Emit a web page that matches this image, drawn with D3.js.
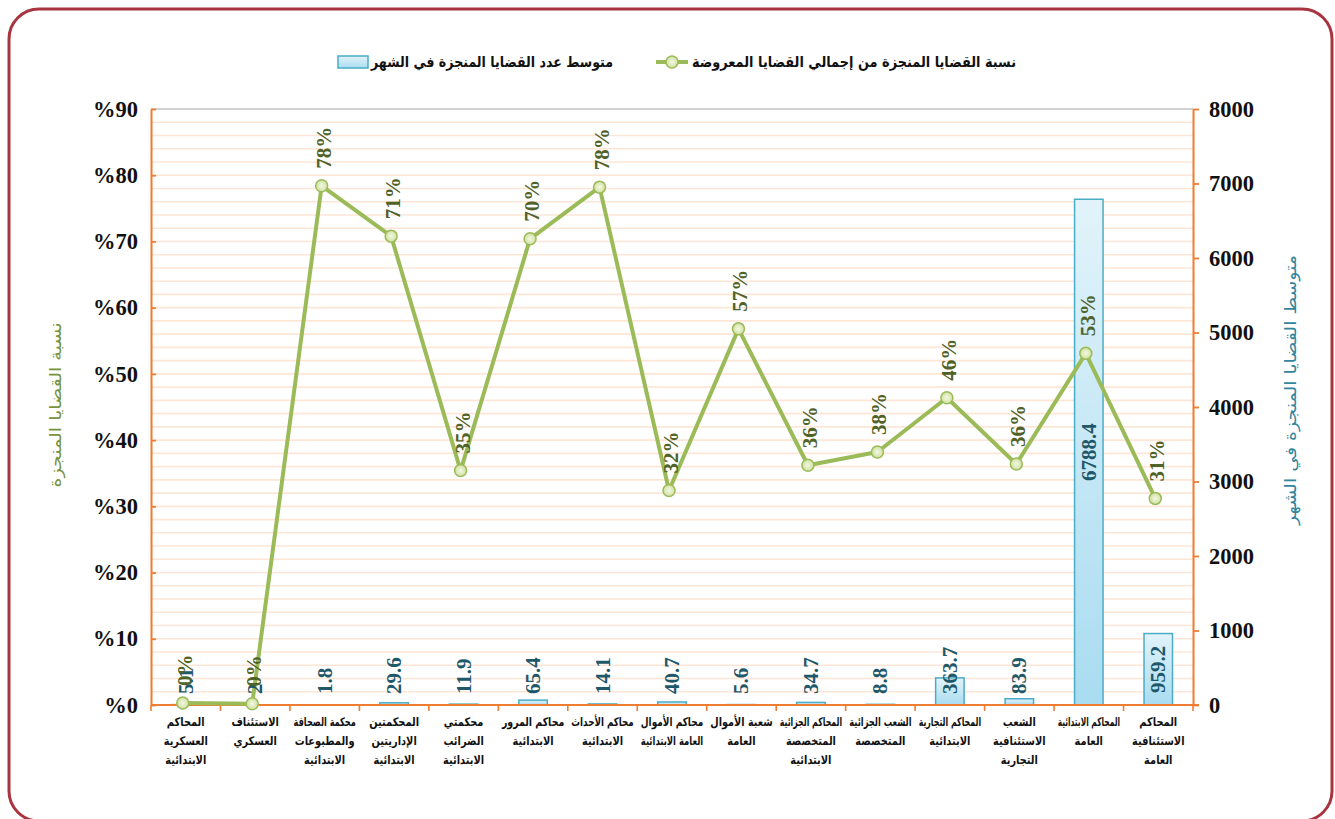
<!DOCTYPE html>
<html><head><meta charset="utf-8">
<script src="https://cdn.jsdelivr.net/npm/d3@7"></script>
<style>body{margin:0;background:#fff;overflow:hidden}</style>
</head><body>
<svg id="c" width="1335" height="819"></svg>
<script>
// ---- data ----
const categories = [
  ["المحاكم","العسكرية","الابتدائية"],
  ["الاستئناف","العسكري"],
  ["محكمة الصحافة","والمطبوعات","الابتدائية"],
  ["المحكمتين","الإداريتين","الابتدائية"],
  ["محكمتي","الضرائب","الابتدائية"],
  ["محاكم المرور","الابتدائية"],
  ["محاكم الأحداث","الابتدائية"],
  ["محاكم الأموال","العامة الابتدائية"],
  ["شعبة الأموال","العامة"],
  ["المحاكم الجزائية","المتخصصة","الابتدائية"],
  ["الشعب الجزائية","المتخصصة"],
  ["المحاكم التجارية","الابتدائية"],
  ["الشعب","الاستئنافية","التجارية"],
  ["المحاكم الابتدائية","العامة"],
  ["المحاكم","الاستئنافية","العامة"]
];
const rateValues = [0.3, 0.2, 78.4, 70.8, 35.4, 70.4, 78.2, 32.4, 56.8, 36.2, 38.2, 46.4, 36.4, 53.1, 31.2];
const avgValues  = [5.1, 2, 1.8, 29.6, 11.9, 65.4, 14.1, 40.7, 5.6, 34.7, 8.8, 363.7, 83.9, 6788.4, 959.2];
const leftTicks  = [0,10,20,30,40,50,60,70,80,90];
const rightTicks = [0,1000,2000,3000,4000,5000,6000,7000,8000];
const legendRate = "نسبة القضايا المنجزة من إجمالي القضايا المعروضة";
const legendAvg  = "متوسط عدد القضايا المنجزة في الشهر";
const titleLeft  = "نسبة القضايا المنجزة";
const titleRight = "متوسط القضايا المنجزة في الشهر";

// ---- layout ----
const L = 151, R = 1193, T = 109, B = 705;
const svg = d3.select("#c");
const ar = "'DejaVu Sans', sans-serif";
const serif = "'Liberation Serif', 'Times New Roman', serif";

const idx = categories.map((d,i)=>i);
const x = d3.scaleBand().domain(idx).range([L,R]).padding(0);
const yL = d3.scaleLinear().domain([0,90]).range([B,T]);
const yR = d3.scaleLinear().domain([0,8000]).range([B,T]);

const defs = svg.append("defs");
const g1 = defs.append("linearGradient").attr("id","barG").attr("x1",0).attr("y1",0).attr("x2",0).attr("y2",1);
g1.append("stop").attr("offset","0%").attr("stop-color","#e2f3fa");
g1.append("stop").attr("offset","100%").attr("stop-color","#a9dcf1");
const g2 = defs.append("radialGradient").attr("id","mkG");
g2.append("stop").attr("offset","0%").attr("stop-color","#f3f8e4");
g2.append("stop").attr("offset","100%").attr("stop-color","#cfe09f");

// outer frame
svg.append("rect").attr("x",9).attr("y",9).attr("width",1323).attr("height",812)
  .attr("rx",30).attr("ry",30).attr("fill","none").attr("stroke","#a8343f").attr("stroke-width",3);

// gridlines every 2%
const gridVals = d3.range(2, 90, 2);
svg.append("g").selectAll("line").data(gridVals).join("line")
  .attr("x1",L).attr("x2",R).attr("y1",d=>yL(d)).attr("y2",d=>yL(d))
  .attr("stroke","#fde6d6").attr("stroke-width",1.6);
svg.append("line").attr("x1",L).attr("x2",R).attr("y1",T).attr("y2",T)
  .attr("stroke","#a6a6a6").attr("stroke-width",1.2);

// bars
const bw = x.bandwidth()*0.41;
svg.append("g").selectAll("rect").data(avgValues).join("rect")
  .attr("x",(d,i)=>x(i)+x.bandwidth()/2-bw/2)
  .attr("y",d=>yR(d))
  .attr("width",bw)
  .attr("height",d=>B-yR(d))
  .attr("fill","url(#barG)").attr("stroke","#4bacc6").attr("stroke-width",1.5);

// axes
const orange = "#ef7d31";
const axL = svg.append("g").attr("transform",`translate(${L},0)`)
  .call(d3.axisLeft(yL).tickValues(leftTicks).tickSizeInner(-5).tickSizeOuter(0).tickPadding(13).tickFormat(d=>"%"+d));
const axR = svg.append("g").attr("transform",`translate(${R},0)`)
  .call(d3.axisRight(yR).tickValues(rightTicks).tickSizeInner(6).tickSizeOuter(0).tickPadding(10).tickFormat(d=>d));
[axL,axR].forEach(a=>{
  a.select(".domain").attr("stroke",orange).attr("stroke-width",2);
  a.selectAll(".tick line").attr("stroke",orange).attr("stroke-width",1.8);
  a.selectAll("text").attr("font-family",serif).attr("font-weight","bold")
    .attr("font-size",22.5).attr("fill","#111").style("direction","ltr");
});
// bottom axis
const axB = svg.append("g");
axB.append("line").attr("x1",L).attr("x2",R+6).attr("y1",B).attr("y2",B)
  .attr("stroke",orange).attr("stroke-width",2);
const bounds = idx.map(i=>x(i)).concat([R]);
axB.selectAll("line.tk").data(bounds).join("line").attr("class","tk")
  .attr("x1",d=>d).attr("x2",d=>d).attr("y1",B).attr("y2",B+6)
  .attr("stroke",orange).attr("stroke-width",1.6);

// category labels (one text per line, horizontally compressed to fit the band)
const catG = svg.append("g");
const maxW = x.bandwidth() - 7;
categories.forEach((lines,i)=>{
  lines.forEach((ln,j)=>{
    const t = catG.append("text").attr("x",0).attr("y",0)
      .attr("text-anchor","middle").attr("font-family",ar).attr("font-weight","bold")
      .attr("font-size",12).attr("fill","#111").attr("direction","rtl").text(ln);
    const w = t.node().getComputedTextLength();
    const sx = Math.min(0.82, maxW/w);
    t.attr("transform",`translate(${x(i)+x.bandwidth()/2},${726+j*19}) scale(${sx},1)`);
  });
});

// line
const cx = i=>x(i)+x.bandwidth()/2 - 3;
const green = "#9bbb59";
svg.append("path").datum(rateValues)
  .attr("d",d3.line().x((d,i)=>cx(i)).y(d=>yL(d)))
  .attr("fill","none").attr("stroke",green).attr("stroke-width",4).attr("stroke-linejoin","round");
svg.append("g").selectAll("ellipse").data(rateValues).join("ellipse")
  .attr("cx",(d,i)=>cx(i)).attr("cy",d=>yL(d)).attr("rx",6).attr("ry",6)
  .attr("fill","url(#mkG)").attr("stroke",green).attr("stroke-width",1.5);

// bar labels
const bl = svg.append("g").selectAll("text").data(avgValues).join("text")
  .attr("font-family",serif).attr("font-weight","bold").attr("font-size",21)
  .attr("fill","#1f5869").attr("text-anchor","middle").attr("dominant-baseline","central")
  .text(d=>String(d));
bl.each(function(d,i){
  const len = this.getComputedTextLength();
  let c = (yR(d)+B)/2;
  if (c + len/2 > 694) c = 694 - len/2;
  d3.select(this).attr("transform",`translate(${x(i)+x.bandwidth()/2},${c}) rotate(-90)`);
});

// line labels
svg.append("g").selectAll("text").data(rateValues).join("text")
  .attr("font-family",serif).attr("font-weight","bold").attr("font-size",21)
  .attr("fill","#4f6228").attr("text-anchor","start").attr("dominant-baseline","central")
  .attr("transform",(d,i)=>`translate(${cx(i)+2},${yL(d)-17}) rotate(-90)`)
  .text(d=>Math.round(d)+"%");

// axis titles
svg.append("text").attr("transform","translate(55,405) rotate(-90)")
  .attr("text-anchor","middle").attr("dominant-baseline","central")
  .attr("font-family",ar).attr("font-size",16).attr("fill","#77933c").attr("direction","rtl")
  .attr("textLength",165).attr("lengthAdjust","spacingAndGlyphs")
  .text(titleLeft);
svg.append("text").attr("transform","translate(1290,390) rotate(-90)")
  .attr("text-anchor","middle").attr("dominant-baseline","central")
  .attr("font-family",ar).attr("font-size",16).attr("fill","#31859c").attr("direction","rtl")
  .attr("textLength",270).attr("lengthAdjust","spacingAndGlyphs")
  .text(titleRight);

// legend
const ly = 62;
svg.append("rect").attr("x",338).attr("y",ly-6).attr("width",30).attr("height",12)
  .attr("fill","url(#barG)").attr("stroke","#4bacc6").attr("stroke-width",1.5);
svg.append("text").attr("x",371).attr("y",ly).attr("dominant-baseline","central")
  .attr("text-anchor","start").attr("font-family",ar).attr("font-weight","bold")
  .attr("font-size",15).attr("fill","#111").attr("direction","ltr")
  .attr("textLength",242).attr("lengthAdjust","spacingAndGlyphs").text(legendAvg);
svg.append("line").attr("x1",656).attr("x2",688).attr("y1",ly).attr("y2",ly)
  .attr("stroke",green).attr("stroke-width",4);
svg.append("ellipse").attr("cx",672).attr("cy",ly).attr("rx",6).attr("ry",6)
  .attr("fill","url(#mkG)").attr("stroke",green).attr("stroke-width",1.5);
svg.append("text").attr("x",692).attr("y",ly).attr("dominant-baseline","central")
  .attr("text-anchor","start").attr("font-family",ar).attr("font-weight","bold")
  .attr("font-size",15).attr("fill","#111").attr("direction","ltr")
  .attr("textLength",324).attr("lengthAdjust","spacingAndGlyphs").text(legendRate);
</script>
</body></html>
